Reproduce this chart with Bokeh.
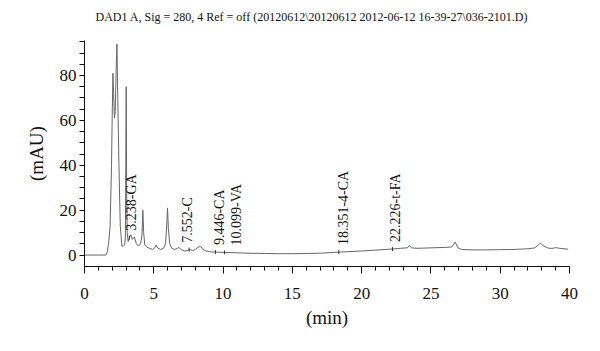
import numpy as np
from bokeh.plotting import figure
from bokeh.models import Range1d, FixedTicker, ColumnDataSource
from bokeh.core.properties import value
from bokeh.embed import file_html
from bokeh.resources import INLINE

# Chromatogram trace (retention time in min, absorbance in mAU)
times = [0, 1.0, 1.55, 1.65, 1.75, 1.85, 1.95, 2.0, 2.05, 2.1, 2.16, 2.22, 2.28, 2.34, 2.4, 2.48,
         2.58, 2.7, 2.8, 2.9, 2.95, 2.98, 3.01, 3.04, 3.08, 3.15, 3.25, 3.35, 3.45, 3.6, 3.75, 3.9,
         4.05, 4.15, 4.21, 4.27, 4.35, 4.5, 4.7, 4.9, 5.05, 5.17, 5.3, 5.5, 5.7, 5.85, 5.93, 5.99,
         6.05, 6.15, 6.3, 6.5, 6.7, 6.8, 6.95, 7.2, 7.4, 7.6, 7.8, 8.0, 8.2, 8.35, 8.5, 8.7, 9.0,
         9.5, 10.0, 11.0, 12.0, 13.0, 14.0, 15.0, 16.0, 17.0, 18.0, 19.0, 20.0, 21.0, 22.0, 22.8,
         23.3, 23.45, 23.6, 24.0, 25.0, 26.0, 26.5, 26.75, 26.95, 27.2, 28.0, 29.0, 30.0, 31.0,
         32.0, 32.5, 32.75, 32.9, 33.1, 33.4, 33.7, 34.0, 34.3, 34.9]
signal = [0, 0, 0, 1.5, 6, 13, 40, 62, 81, 72, 61, 64, 82, 94, 70, 42,
          13, 4, 4, 4.5, 8, 40, 75, 30, 10, 6, 8, 9, 7, 8, 5, 4,
          5, 9, 20, 10, 4.5, 3.5, 3, 2.5, 3, 4.5, 3, 2.5, 3, 5, 13, 21,
          12, 5, 3, 2.5, 3, 3.5, 2.5, 1.8, 2, 2.5, 2, 2.5, 3.5, 3.8, 3, 2, 1.5,
          1.3, 1.2, 1, 0.8, 0.7, 0.6, 0.6, 0.7, 0.8, 1.2, 1.5, 1.8, 2.2, 2.6, 3,
          3.2, 4.3, 3.2, 3, 3.2, 3.4, 3.6, 5.8, 3.2, 2.5, 2.3, 2.3, 2.4, 2.5,
          2.8, 3.2, 4.5, 5.3, 4.2, 3.2, 2.9, 3.3, 3, 2.6]

# Peak annotations
peak_rt = [3.238, 7.552, 9.446, 10.099, 18.351, 22.226]
peak_names = ["GA", "C", "CA", "VA", "4-CA", "t-FA"]
label_nudge = [2, -2, 4, 12, 5, 3]  # horizontal nudge of each label, px

# Axis ticks
x_ticks = [0, 5, 10, 15, 20, 25, 30, 35]
x_tick_labels = ["0", "5", "10", "15", "20", "25", "30", "40"]
y_ticks = [0, 20, 40, 60, 80]

title_text = "DAD1 A, Sig = 280, 4 Ref = off (20120612\\20120612 2012-06-12 16-39-27\\036-2101.D)"

FONT = "Liberation Serif"

p = figure(width=592, height=343, output_backend="svg", toolbar_location=None,
           x_range=Range1d(0, 35), y_range=Range1d(-5.1, 95.6),
           min_border_left=84, min_border_right=23, min_border_top=35, min_border_bottom=77,
           title=title_text + "\n")
p.outline_line_color = None
p.xgrid.visible = False
p.ygrid.visible = False
p.background_fill_color = "white"
p.border_fill_color = "white"

p.title.text_font = FONT
p.title.text_font_size = "12px"
p.title.text_font_style = "normal"
p.title.text_color = "#111111"
p.title.text_line_height = 0.7
p.title.align = "left"
p.title.offset = 11
p.title.standoff = 14

for ax in (p.xaxis[0], p.yaxis[0]):
    ax.axis_line_color = "#111111"
    ax.major_tick_line_color = "#111111"
    ax.minor_tick_line_color = "#111111"
    ax.major_label_text_font = FONT
    ax.major_label_text_font_size = "17px"
    ax.major_label_text_color = "#111111"
    ax.axis_label_text_font = FONT
    ax.axis_label_text_font_size = "19px"
    ax.axis_label_text_font_style = "normal"
    ax.axis_label_text_color = "#111111"
    ax.major_tick_in = 0
    ax.minor_tick_in = 0

p.xaxis[0].ticker = FixedTicker(ticks=x_ticks, minor_ticks=list(range(0, 36)))
p.xaxis[0].major_label_overrides = {t: l for t, l in zip(x_ticks, x_tick_labels)}
p.xaxis[0].major_tick_out = 7
p.xaxis[0].minor_tick_out = 4
p.xaxis[0].major_label_standoff = 14
p.xaxis[0].axis_label = "(min)"
p.xaxis[0].axis_label_standoff = 5

p.yaxis[0].ticker = FixedTicker(ticks=y_ticks, minor_ticks=[v for v in range(5, 96, 5) if v % 20])
p.yaxis[0].major_tick_out = 5
p.yaxis[0].minor_tick_out = 5
p.yaxis[0].major_label_standoff = 3
p.yaxis[0].axis_label = "(mAU)"
p.yaxis[0].axis_label_standoff = 10

p.line(times, signal, line_color="#666666", line_width=1)

# peak markers and labels
base = np.interp(peak_rt, times, signal)
p.segment(x0=peak_rt, y0=base - 0.9, x1=peak_rt, y1=base + 0.9, line_color="#333333", line_width=1)
labels = [f"{rt:.3f}-{n}" for rt, n in zip(peak_rt, peak_names)]
src = ColumnDataSource(dict(x=peak_rt, y=base, text=labels, dx=label_nudge))
p.text(x="x", y="y", text="text", source=src, angle=np.pi / 2,
       text_align="left", text_baseline="middle", x_offset="dx", y_offset=-7,
       text_font=value(FONT), text_font_size="14px", text_color="#111111")

open("out.html", "w").write(file_html(p, INLINE))
